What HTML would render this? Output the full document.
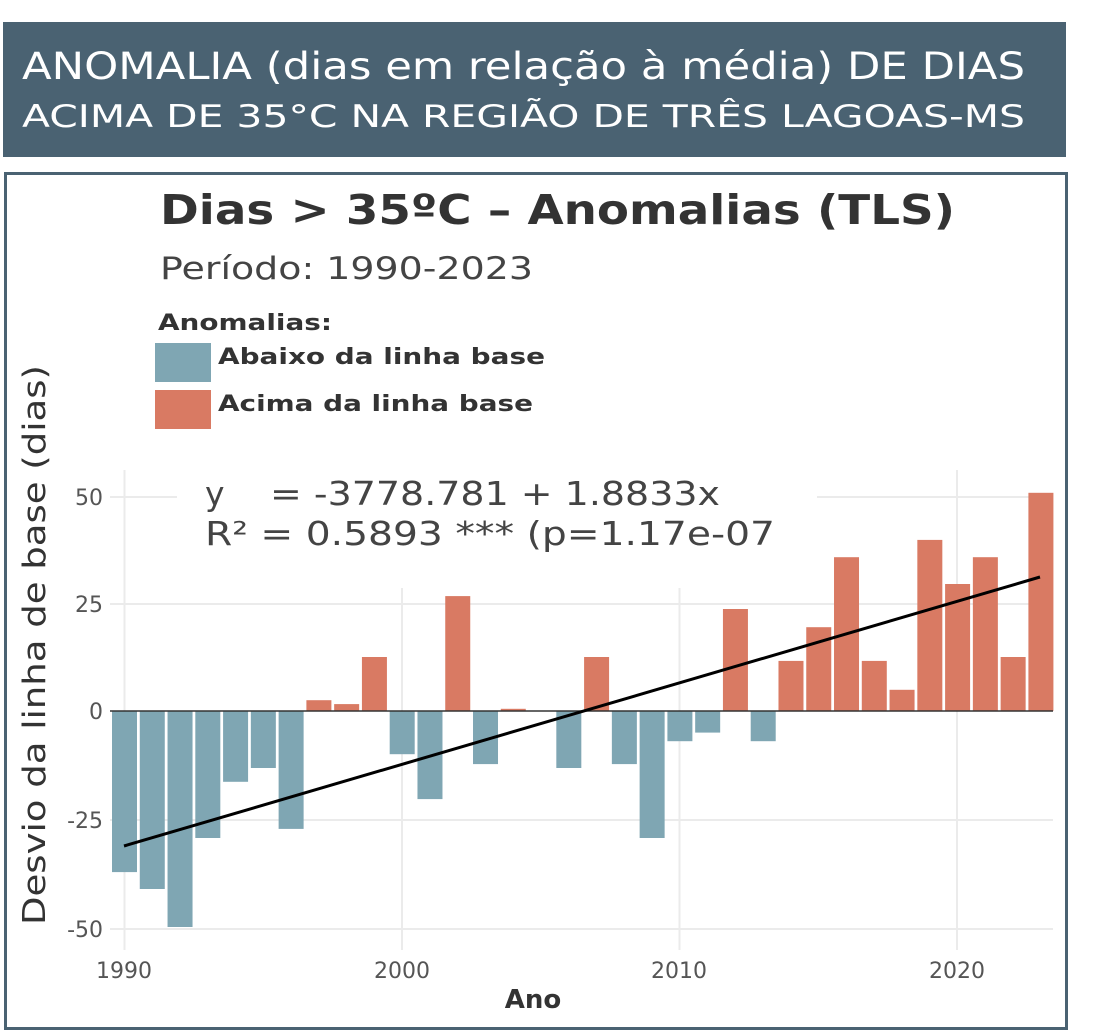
<!DOCTYPE html>
<html><head><meta charset="utf-8"><style>
html,body{margin:0;padding:0;background:#fff;}
svg{display:block;font-family:"DejaVu Sans","Liberation Sans",sans-serif;}
</style></head><body>
<svg width="1111" height="1033" viewBox="0 0 1111 1033" xmlns="http://www.w3.org/2000/svg">
<rect x="3" y="22" width="1063" height="135" fill="#4a6272"/>
<text x="22" y="79" fill="#fff" font-size="37" textLength="1003" lengthAdjust="spacingAndGlyphs">ANOMALIA (dias em relação à média) DE DIAS</text>
<text x="22" y="127" fill="#fff" font-size="31" textLength="1003" lengthAdjust="spacingAndGlyphs">ACIMA DE 35°C NA REGIÃO DE TRÊS LAGOAS-MS</text>
<rect x="5.5" y="173.5" width="1061" height="855" fill="#fff" stroke="#4a6272" stroke-width="3"/>
<text x="160" y="224" fill="#333" font-size="41" font-weight="bold" textLength="795" lengthAdjust="spacingAndGlyphs">Dias &gt; 35ºC – Anomalias (TLS)</text>
<text x="160" y="279" fill="#444" font-size="31" textLength="373" lengthAdjust="spacingAndGlyphs">Período: 1990-2023</text>
<text x="158" y="330" fill="#333" font-size="22" font-weight="bold" textLength="174" lengthAdjust="spacingAndGlyphs">Anomalias:</text>
<rect x="155" y="343" width="56" height="39" fill="#7fa6b3"/>
<rect x="155" y="390" width="56" height="39" fill="#d97a63"/>
<text x="218" y="364" fill="#333" font-size="22" font-weight="bold" textLength="327" lengthAdjust="spacingAndGlyphs">Abaixo da linha base</text>
<text x="218" y="411" fill="#333" font-size="22" font-weight="bold" textLength="315" lengthAdjust="spacingAndGlyphs">Acima da linha base</text>
<g stroke="#ebebeb" stroke-width="2">
<line x1="110" x2="1053" y1="497" y2="497"/><line x1="110" x2="1053" y1="604" y2="604"/>
<line x1="110" x2="1053" y1="820" y2="820"/><line x1="110" x2="1053" y1="929" y2="929"/>
<line x1="124.5" x2="124.5" y1="470" y2="950"/><line x1="402" x2="402" y1="470" y2="950"/>
<line x1="679.5" x2="679.5" y1="470" y2="950"/><line x1="957" x2="957" y1="470" y2="950"/>
</g>
<rect x="177" y="462" width="640" height="126" fill="#fff"/>
<g fill="#7fa6b3">
<rect x="112" y="711" width="25" height="161.1"/>
<rect x="139.77" y="711" width="25" height="178"/>
<rect x="167.54" y="711" width="25" height="216"/>
<rect x="195.31" y="711" width="25" height="127"/>
<rect x="223.08" y="711" width="25" height="70.8"/>
<rect x="250.85" y="711" width="25" height="57"/>
<rect x="278.62" y="711" width="25" height="117.9"/>
<rect x="389.7" y="711" width="25" height="43.2"/>
<rect x="417.47" y="711" width="25" height="88.1"/>
<rect x="473.01" y="711" width="25" height="53.1"/>
<rect x="556.32" y="711" width="25" height="57"/>
<rect x="611.86" y="711" width="25" height="53.1"/>
<rect x="639.63" y="711" width="25" height="127"/>
<rect x="667.4" y="711" width="25" height="30.2"/>
<rect x="695.17" y="711" width="25" height="21.6"/>
<rect x="750.71" y="711" width="25" height="30.2"/>
</g>
<g fill="#d97a63">
<rect x="306.39" y="700.2" width="25" height="10.8"/>
<rect x="334.16" y="704.1" width="25" height="6.9"/>
<rect x="361.93" y="657" width="25" height="54"/>
<rect x="445.24" y="596.1" width="25" height="114.9"/>
<rect x="500.78" y="708.8" width="25" height="2.2"/>
<rect x="584.09" y="657" width="25" height="54"/>
<rect x="722.94" y="609" width="25" height="102"/>
<rect x="778.48" y="660.9" width="25" height="50.1"/>
<rect x="806.25" y="627.2" width="25" height="83.8"/>
<rect x="834.02" y="557.2" width="25" height="153.8"/>
<rect x="861.79" y="660.9" width="25" height="50.1"/>
<rect x="889.56" y="689.8" width="25" height="21.2"/>
<rect x="917.33" y="539.9" width="25" height="171.1"/>
<rect x="945.1" y="584" width="25" height="127"/>
<rect x="972.87" y="557.2" width="25" height="153.8"/>
<rect x="1000.64" y="657" width="25" height="54"/>
<rect x="1028.41" y="492.8" width="25" height="218.2"/>
</g>
<line x1="110" x2="1053" y1="711" y2="711" stroke="#333" stroke-width="1.5"/>
<line x1="124" y1="846" x2="1040" y2="577" stroke="#000" stroke-width="3"/>
<text x="205" y="505" fill="#444" font-size="33">y</text>
<text x="270" y="505" fill="#444" font-size="33" textLength="450" lengthAdjust="spacingAndGlyphs">= -3778.781 + 1.8833x</text>
<text x="205" y="545" fill="#444" font-size="33" textLength="570" lengthAdjust="spacingAndGlyphs">R² = 0.5893 *** (p=1.17e-07</text>
<g fill="#555" font-size="22" text-anchor="end">
<text x="103" y="505">50</text><text x="103" y="612">25</text><text x="103" y="719">0</text>
<text x="103" y="828">-25</text><text x="103" y="937">-50</text>
</g>
<g fill="#555" font-size="22" text-anchor="middle">
<text x="124" y="978">1990</text><text x="402" y="978">2000</text><text x="679" y="978">2010</text><text x="957" y="978">2020</text>
</g>
<text x="533" y="1008" fill="#333" font-size="26" font-weight="bold" text-anchor="middle">Ano</text>
<text transform="translate(45,645) rotate(-90)" fill="#333" font-size="31" text-anchor="middle" textLength="560" lengthAdjust="spacingAndGlyphs">Desvio da linha de base (dias)</text>
</svg>
</body></html>
